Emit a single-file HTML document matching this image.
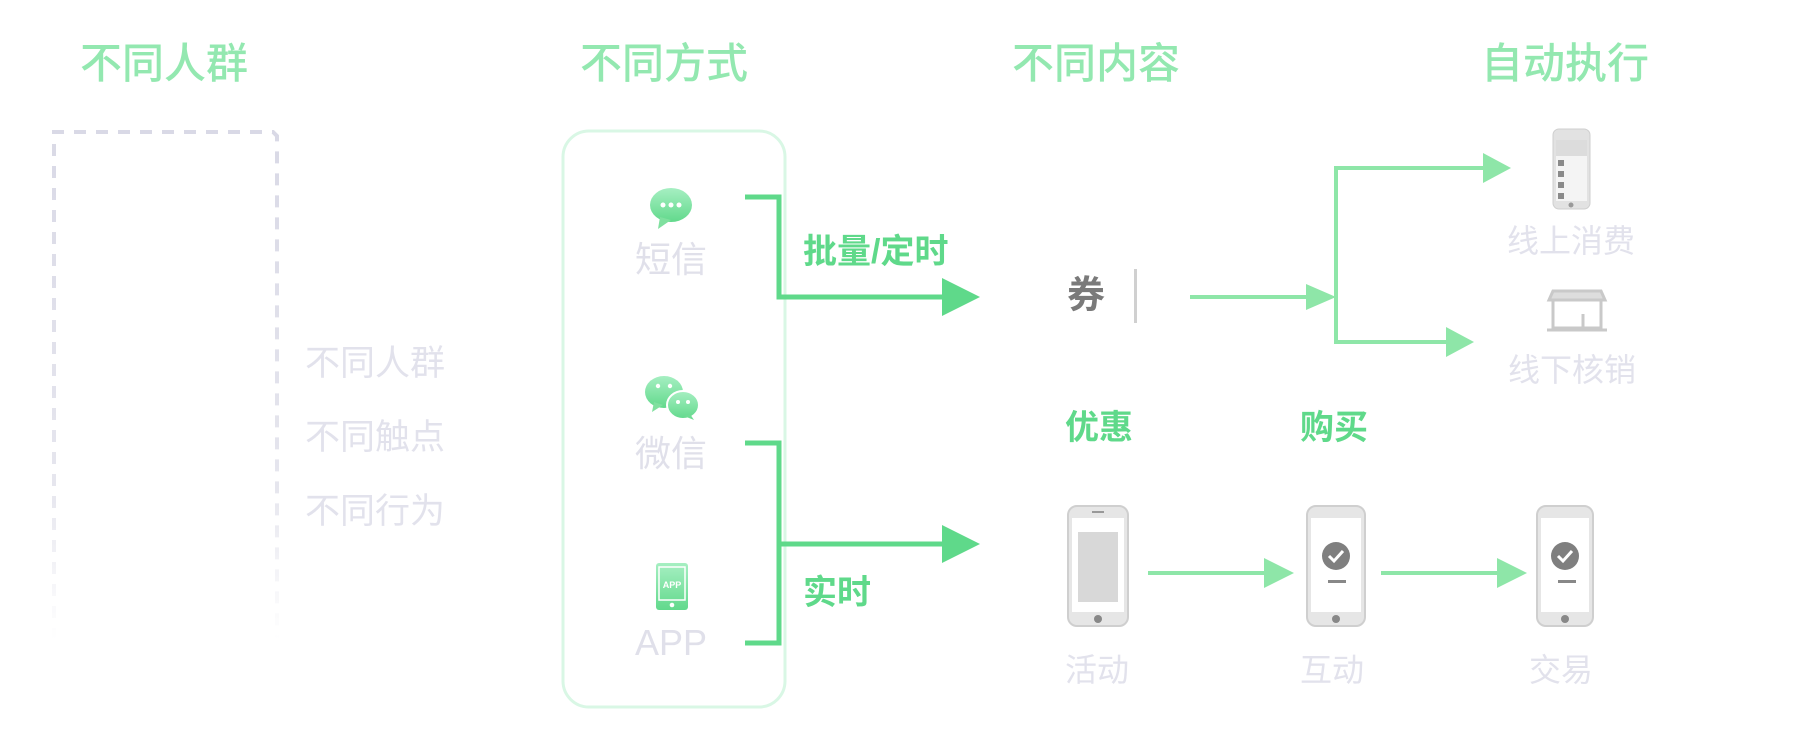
<!DOCTYPE html>
<html><head><meta charset="utf-8"><style>
html,body{margin:0;padding:0;background:#fff;}
svg{display:block;}
text{font-family:"Liberation Sans","Noto Sans CJK SC",sans-serif;}
</style></head><body>
<svg width="1800" height="736" viewBox="0 0 1800 736" xmlns="http://www.w3.org/2000/svg">
<defs>
<linearGradient id="fade" x1="0" y1="0" x2="0" y2="1">
<stop offset="0" stop-color="#d9d9e6"/><stop offset="0.7" stop-color="#e6e6ee"/><stop offset="1" stop-color="#ffffff"/>
</linearGradient>
<linearGradient id="ig" x1="0" y1="0" x2="0" y2="1">
<stop offset="0" stop-color="#a6efc2"/><stop offset="1" stop-color="#62d98c"/>
</linearGradient>
</defs>
<g font-size="42" fill="#93e8b0" text-anchor="middle" font-weight="500">
<text x="164" y="78">不同人群</text>
<text x="664" y="78">不同方式</text>
<text x="1096" y="78">不同内容</text>
<text x="1565" y="78">自动执行</text>
</g>
<path d="M54 640 V132 H273 L277 136 V640" fill="none" stroke="url(#fade)" stroke-width="4" stroke-dasharray="12 10"/>
<g font-size="35" fill="#e2e2ec">
<text x="305" y="375">不同人群</text>
<text x="305" y="449">不同触点</text>
<text x="305" y="523">不同行为</text>
</g>
<rect x="563" y="131" width="222" height="576" rx="26" fill="none" stroke="#d9f7e5" stroke-width="3"/>
<ellipse cx="671" cy="205" rx="21" ry="17" fill="url(#ig)"/>
<path d="M660 217 L658 229 L671 220 Z" fill="#7fe09f"/>
<circle cx="663" cy="205" r="2.5" fill="#fff"/><circle cx="671" cy="205" r="2.5" fill="#fff"/><circle cx="679" cy="205" r="2.5" fill="#fff"/>
<ellipse cx="664" cy="392" rx="19" ry="16" fill="url(#ig)"/>
<path d="M654 402 L652 412 L663 405 Z" fill="#80e09f"/>
<ellipse cx="683" cy="405" rx="16" ry="14" fill="url(#ig)" stroke="#fff" stroke-width="2"/>
<path d="M690 414 L694 420 L684 416 Z" fill="#70dc94"/>
<circle cx="658" cy="386" r="2.2" fill="#fff"/><circle cx="670" cy="386" r="2.2" fill="#fff"/>
<circle cx="678" cy="402" r="2" fill="#fff"/><circle cx="688" cy="402" r="2" fill="#fff"/>
<rect x="656" y="563" width="32" height="47" rx="3" fill="url(#ig)"/>
<rect x="659" y="567" width="26" height="33" fill="none" stroke="#fff" stroke-width="1.5"/>
<text x="672" y="588" font-size="9" fill="#fff" text-anchor="middle" font-weight="bold">APP</text>
<circle cx="672" cy="605" r="2.3" fill="#fff"/>
<g font-size="36" fill="#e0e0ea" text-anchor="middle">
<text x="671" y="272">短信</text>
<text x="671" y="466">微信</text>
<text x="671" y="655">APP</text>
</g>
<g stroke="#5fd98a" stroke-width="5" fill="none">
<path d="M745 197 H779 V297 H944"/>
<path d="M745 443 H779 V643 H745"/>
<path d="M779 544 H944"/>
</g>
<path d="M942 278 L980 297 L942 316 Z" fill="#5fd98a"/>
<path d="M942 525 L980 544 L942 563 Z" fill="#5fd98a"/>
<g font-size="34" fill="#5fd98a" font-weight="bold">
<text x="803" y="263">批量/定时</text>
<text x="803" y="604">实时</text>
<text x="1065" y="439">优惠</text>
<text x="1300" y="439">购买</text>
</g>
<text x="1086" y="308" font-size="38" font-weight="bold" fill="#7a7a7a" text-anchor="middle">券</text>
<rect x="1134" y="269" width="3" height="54" fill="#d0d0d0"/>
<g stroke="#8ee6a8" stroke-width="4" fill="none">
<path d="M1190 297 H1310"/>
<path d="M1485 168 H1336 V342 H1446"/>
<path d="M1148 573 H1270"/>
<path d="M1381 573 H1504"/>
</g>
<g fill="#8ee6a8">
<path d="M1306 284 L1336 297 L1306 310 Z"/>
<path d="M1483 153 L1511 168 L1483 183 Z"/>
<path d="M1446 327 L1474 342 L1446 357 Z"/>
<path d="M1264 558 L1294 573 L1264 588 Z"/>
<path d="M1497 558 L1527 573 L1497 588 Z"/>
</g>
<rect x="1553" y="129" width="37" height="80" rx="6" fill="#e2e2e2" stroke="#cfcfcf"/>
<rect x="1556" y="140" width="31" height="61" fill="#f4f4f4"/>
<rect x="1556" y="140" width="31" height="16" fill="#dcdcdc"/>
<g fill="#8a8a8a"><rect x="1558" y="160" width="6" height="6"/><rect x="1558" y="171" width="6" height="6"/><rect x="1558" y="182" width="6" height="6"/><rect x="1558" y="193" width="6" height="6"/></g>
<circle cx="1571" cy="205" r="2.5" fill="#999"/>
<g stroke="#c9c9c9" stroke-width="3" fill="none">
<path d="M1553 300 V328 H1601 V300"/>
<path d="M1549 300 H1605 L1601 291 H1553 Z" fill="#ddd"/>
<path d="M1547 330 H1607"/>
<path d="M1583 314 V328"/>
</g>
<g font-size="32" fill="#e2e2ec" text-anchor="middle">
<text x="1571" y="252">线上消费</text>
<text x="1572" y="381">线下核销</text>
<text x="1097" y="681">活动</text>
<text x="1332" y="681">互动</text>
<text x="1561" y="681">交易</text>
</g>
<g>
<rect x="1068" y="506" width="60" height="120" rx="9" fill="#e6e6e6" stroke="#cfcfcf" stroke-width="2"/>
<rect x="1072" y="518" width="52" height="94" fill="#fff"/>
<rect x="1078" y="532" width="40" height="70" fill="#d8d8d8"/>
<circle cx="1098" cy="619" r="4" fill="#888"/>
<rect x="1092" y="511" width="12" height="2" fill="#999"/>
</g>
<g>
<rect x="1307" y="506" width="58" height="120" rx="9" fill="#e6e6e6" stroke="#cfcfcf" stroke-width="2"/>
<rect x="1311" y="518" width="50" height="94" fill="#fff"/>
<circle cx="1336" cy="556" r="14" fill="#7f7f7f"/>
<path d="M1329 556 L1334 561 L1343 551" stroke="#fff" stroke-width="3" fill="none"/>
<rect x="1328" y="580" width="18" height="3" fill="#888"/>
<circle cx="1336" cy="619" r="4" fill="#888"/>
</g>
<g>
<rect x="1537" y="506" width="56" height="120" rx="9" fill="#e6e6e6" stroke="#cfcfcf" stroke-width="2"/>
<rect x="1541" y="518" width="48" height="94" fill="#fff"/>
<circle cx="1565" cy="556" r="14" fill="#7f7f7f"/>
<path d="M1558 556 L1563 561 L1572 551" stroke="#fff" stroke-width="3" fill="none"/>
<rect x="1558" y="580" width="18" height="3" fill="#888"/>
<circle cx="1565" cy="619" r="4" fill="#888"/>
</g>
</svg>
</body></html>
